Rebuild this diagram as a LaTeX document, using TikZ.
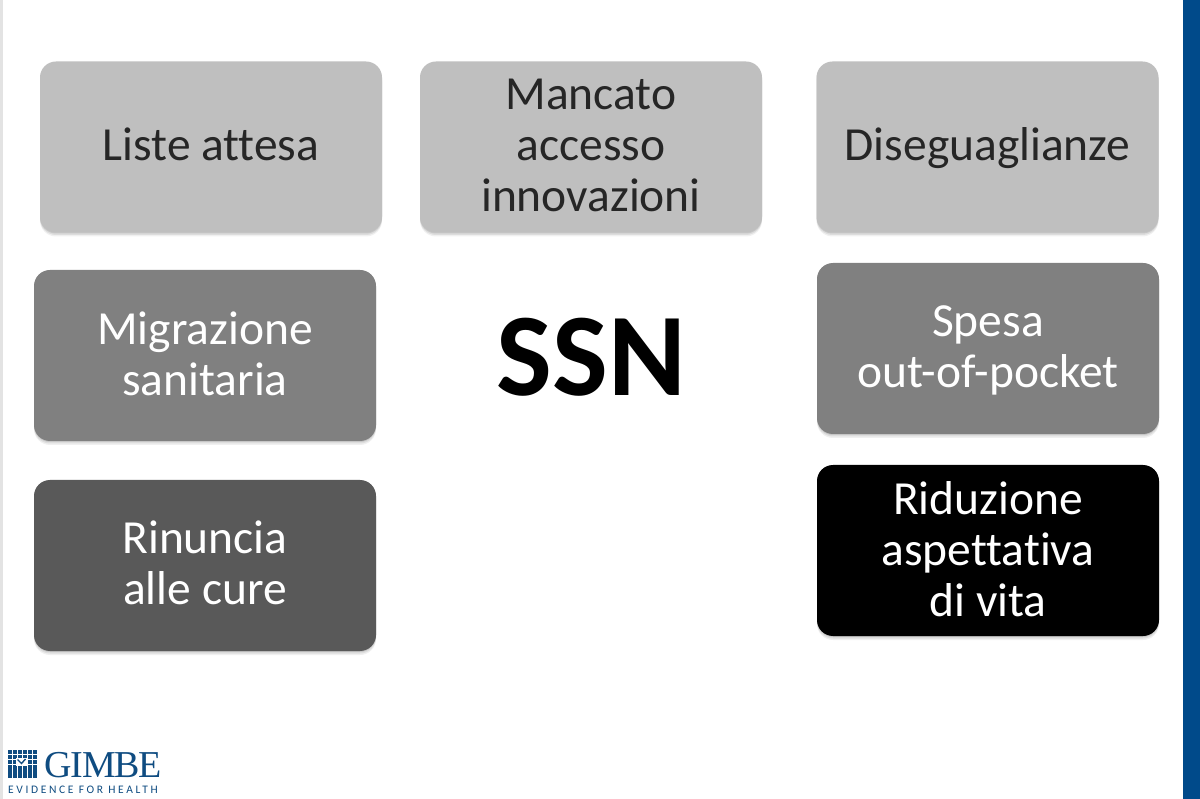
\documentclass[tikz,border=0pt]{standalone}
\usepackage{fontspec}
\setmainfont[Ligatures=NoCommon]{Carlito}
\newfontfamily\logoserif{Liberation Serif}
\usetikzlibrary{shadows}
\definecolor{barblue}{HTML}{004A8A}
\definecolor{logoblue}{HTML}{0F4C81}
\definecolor{edgegrey}{HTML}{E3E3E3}
\tikzset{
  softshadow/.style={general shadow={shadow yshift=-4pt,fill=black,fill opacity=.06,rounded corners=17pt},
                     general shadow={shadow yshift=-2.5pt,fill=black,fill opacity=.08,rounded corners=17pt},
                     general shadow={shadow yshift=-1pt,fill=black,fill opacity=.10,rounded corners=17pt}},
  tile/.style={rounded corners=16pt,minimum width=342pt,minimum height=171pt,inner sep=0pt,softshadow,fill=#1},
  tiletext/.style={inner sep=0pt,align=center,font=\fontsize{47.5}{51}\selectfont},
  lighttext/.style={tiletext,text=black!85},
  darktext/.style={tiletext,text=white},
}
\begin{document}
\begin{tikzpicture}[x=1pt,y=-1pt]
\useasboundingbox (0,0) rectangle (1200,799);
\fill[white] (0,0) rectangle (1200,799);
\fill[edgegrey] (0,0) rectangle (3,799);
\fill[barblue] (1183,0) rectangle (1200,799);
\node[tile=black!25] (liste) at (211,147) {};
\node[lighttext,yshift=3pt] (listeT) at (liste) {Liste attesa};
\node[tile=black!25] (mancato) at (591,147) {};
\node[lighttext,yshift=2pt] (mancatoT) at (mancato) {Mancato\\accesso\\innovazioni};
\node[tile=black!25] (dis) at (987.5,147) {};
\node[lighttext,yshift=-1pt] (disT) at (dis) {Diseguaglianze};
\node[tile=black!50] (migr) at (205,355.5) {};
\node[darktext,yshift=2pt] (migrT) at (migr) {Migrazione\\sanitaria};
\node[tile=black!65] (rin) at (205,565.5) {};
\node[darktext,yshift=2.5pt] (rinT) at (rin) {Rinuncia\\alle cure};
\node[tile=black!50] (spesa) at (988,348.5) {};
\node[darktext,yshift=-2pt] (spesaT) at (spesa) {Spesa\\out-of-pocket};
\node[tile=black] (rid) at (988,550.5) {};
\node[darktext,yshift=1pt] (ridT) at (rid) {Riduzione\\aspettativa\\di vita};
\node[font=\fontsize{118}{118}\selectfont\bfseries,text=black,inner sep=0pt] (ssn) at (591.5,357) {SSN};
% logo
\foreach \i in {0,...,5}{\foreach \j in {0,...,5}{
  \fill[logoblue] ({8.3+\i*4.85},{750+\j*4.85}) rectangle ++(4.1,4.1);}}
\fill[white] (15.5,757.5) rectangle (27,766);
\draw[logoblue,line width=1.4pt] (17.5,759.5) -- (21.5,763.5) -- (25.5,759);
\node[anchor=west,inner sep=0pt,text=logoblue,font=\logoserif\fontsize{38}{38}\selectfont] (gimbe) at (44,765) {\addfontfeature{LetterSpace=-3}GIMBE};
\node[anchor=west,inner sep=0pt,text=logoblue,font=\fontsize{11.5}{12}\selectfont] (efh) at (8,790) {\addfontfeature{LetterSpace=23}EVIDENCE FOR HEALTH};
\end{tikzpicture}
\end{document}
